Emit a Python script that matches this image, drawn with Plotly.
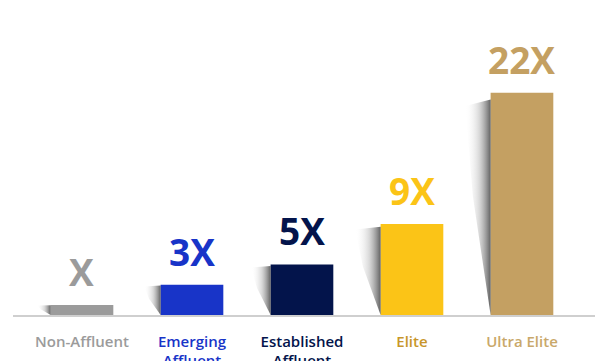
import plotly.graph_objects as go

# Wealth segments and their multiples
categories = ["Non-Affluent", "Emerging<br>Affluent", "Established<br>Affluent", "Elite", "Ultra Elite"]
multiples = [1, 3, 5, 9, 22]
value_labels = ["X", "3X", "5X", "9X", "22X"]

bar_colors = ["#9b9b9b", "#1834c8", "#03144b", "#fbc417", "#c4a062"]
label_colors = ["#9b9b9b", "#1834c8", "#03144b", "#c8962a", "#c9a86a"]

BAR_W = 0.57
FONT = "Open Sans"

fig = go.Figure()

# soft drop shadows to the left of each bar
for i, v in enumerate(multiples):
    left = i - BAR_W / 2
    sw = 0.11 + 0.12 * min(1.0, v / 9)
    top = v * 0.97
    xs = [left, left - sw, left - sw * 0.7, left - sw * 0.15, left, left]
    ys = [top, top * 0.97, top * 0.55, top * 0.1, 0, top]
    fig.add_trace(go.Scatter(
        x=xs, y=ys, mode="lines", fill="toself",
        line=dict(width=0, color="rgba(0,0,0,0)"),
        fillgradient=dict(
            type="horizontal",
            colorscale=[[0, "rgba(255,255,255,0)"], [0.55, "rgba(160,160,160,0.4)"],
                        [1, "rgba(70,70,70,0.85)"]],
        ),
        hoverinfo="skip", showlegend=False,
    ))

fig.add_trace(go.Bar(
    x=list(range(len(categories))), y=multiples, width=BAR_W,
    marker=dict(color=bar_colors, line=dict(width=0)),
    showlegend=False, hoverinfo="skip",
))

for i, (v, t) in enumerate(zip(multiples, value_labels)):
    fig.add_annotation(
        x=i, y=v, text=f"<b>{t}</b>", showarrow=False,
        yanchor="bottom", yshift=6,
        font=dict(family=FONT, size=37, color=bar_colors[i]),
    )

ticktext = [f"<span style='color:{c}'>{n}</span>" for n, c in zip(categories, label_colors)]

fig.update_layout(
    width=598, height=361,
    margin=dict(l=13, r=3, t=20, b=46, autoexpand=False),
    paper_bgcolor="white", plot_bgcolor="white",
    font=dict(family=FONT),
    xaxis=dict(
        range=[-0.627, 4.664], tickmode="array",
        tickvals=list(range(len(categories))), ticktext=ticktext,
        tickfont=dict(family=FONT, size=15, weight=600),
        showgrid=False, zeroline=False, ticks="",
        showline=True, linecolor="#cfcfcf", linewidth=1.5,
        ticklabelstandoff=12, automargin=False,
    ),
    yaxis=dict(range=[0, 29.2], visible=False, showgrid=False, zeroline=False,
               automargin=False),
)

fig.write_html("out.html")
